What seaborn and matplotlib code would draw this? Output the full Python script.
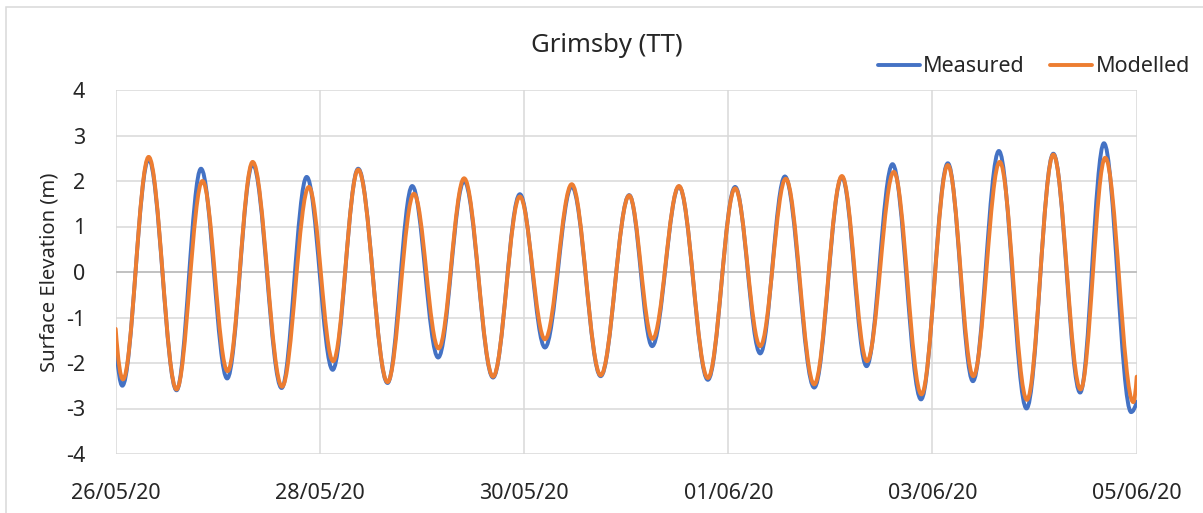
import matplotlib
matplotlib.use("Agg")
import matplotlib.pyplot as plt
import matplotlib.dates as mdates
import numpy as np
import pandas as pd
import seaborn as sns
from matplotlib.path import Path
from matplotlib.patches import PathPatch, Rectangle
from matplotlib.lines import Line2D

# Water levels at Grimsby, 26/05/20 – 05/06/20.
# Times are hours after 26/05/20 00:00; each row is the level at the left
# edge, at every high/low water, and at the right edge.
START = pd.Timestamp("2020-05-26")
END = pd.Timestamp("2020-06-05")

measured_hours = [0.0, 1.55, 7.75, 14.3, 20.05, 26.2, 32.2, 39.0, 44.9, 51.0,
                  57.0, 63.9, 69.7, 75.8, 81.9, 88.7, 95.0, 100.9, 107.2,
                  114.0, 120.7, 126.1, 132.4, 139.2, 145.6, 151.5, 157.3,
                  164.2, 170.7, 176.5, 182.6, 189.3, 195.6, 201.5, 207.6,
                  214.1, 220.4, 226.7, 232.3, 238.7, 240.0]
measured_level = [-1.50, -2.50, 2.48, -2.60, 2.27, -2.34, 2.37, -2.55, 2.09,
                  -2.15, 2.27, -2.44, 1.89, -1.88, 2.00, -2.32, 1.71, -1.66,
                  1.88, -2.29, 1.69, -1.63, 1.88, -2.37, 1.87, -1.79, 2.10,
                  -2.54, 2.09, -2.07, 2.37, -2.80, 2.39, -2.40, 2.66, -3.00,
                  2.60, -2.65, 2.83, -3.08, -2.85]

modelled_hours = [0.0, 1.7, 7.75, 14.3, 20.4, 26.3, 32.2, 39.1, 45.4, 51.1,
                  57.0, 63.9, 70.1, 75.9, 81.9, 88.7, 95.0, 100.9, 107.2,
                  114.0, 120.7, 126.2, 132.4, 139.2, 145.6, 151.5, 157.5,
                  164.2, 170.7, 176.6, 182.9, 189.4, 195.6, 201.6, 207.8,
                  214.2, 220.4, 226.8, 232.6, 239.2, 240.0]
modelled_level = [-1.25, -2.36, 2.53, -2.58, 2.00, -2.18, 2.42, -2.52, 1.87,
                  -1.96, 2.25, -2.42, 1.72, -1.68, 2.06, -2.30, 1.66, -1.48,
                  1.93, -2.27, 1.68, -1.47, 1.89, -2.33, 1.84, -1.63, 2.05,
                  -2.47, 2.11, -1.96, 2.20, -2.69, 2.35, -2.29, 2.42, -2.81,
                  2.58, -2.58, 2.51, -2.86, -2.30]

series_names = ["Measured", "Modelled"]
series_colors = ["#4472C4", "#ED7D31"]

y_ticks = [-4, -3, -2, -1, 0, 1, 2, 3, 4]
x_tick_dates = pd.date_range(START, END, freq="2D")

df = pd.concat([
    pd.DataFrame({"time": START + pd.to_timedelta(measured_hours, unit="h"),
                  "level": measured_level, "series": "Measured"}),
    pd.DataFrame({"time": START + pd.to_timedelta(modelled_hours, unit="h"),
                  "level": modelled_level, "series": "Modelled"}),
])

sns.set_theme(style="white")
plt.rcParams["font.family"] = ["Noto Sans", "DejaVu Sans"]
plt.rcParams["text.color"] = "#262626"

TEXT = "#262626"
W, H = 1203, 513
fig = plt.figure(figsize=(W / 100, H / 100), dpi=100)
ax = fig.add_axes([115.7 / W, 1 - 454 / H, (1136.7 - 115.7) / W, (454 - 90) / H])

# Chart-area frame
fig.patches.append(Rectangle((6 / W, -0.1), 1.2, 1 - 7 / H + 0.1,
                             transform=fig.transFigure, fill=False,
                             edgecolor="#D9D9D9", lw=1.1, zorder=0))


def smooth_path(xs, ys, k=0.36):
    """Bezier path through high/low waters with level tangents at each turn."""
    verts = [(xs[0], ys[0])]
    codes = [Path.MOVETO]
    n = len(xs)
    for i in range(1, n):
        dx = xs[i] - xs[i - 1]
        if i == 1:
            verts += [(xs[i] - 0.5 * dx, ys[i]), (xs[i], ys[i])]
            codes += [Path.CURVE3, Path.CURVE3]
        elif i == n - 1:
            verts += [(xs[i - 1] + 0.5 * dx, ys[i - 1]), (xs[i], ys[i])]
            codes += [Path.CURVE3, Path.CURVE3]
        else:
            verts += [(xs[i - 1] + k * dx, ys[i - 1]),
                      (xs[i] - k * dx, ys[i]), (xs[i], ys[i])]
            codes += [Path.CURVE4] * 3
    return Path(verts, codes)


handles = []
for z, (name, color) in enumerate(zip(series_names, series_colors)):
    sub = df[df["series"] == name]
    xs = mdates.date2num(sub["time"].dt.to_pydatetime())
    ys = sub["level"].to_numpy()
    patch = PathPatch(smooth_path(xs, ys), fill=False, edgecolor=color,
                      lw=2.8, capstyle="round", joinstyle="round", zorder=3 + z)
    ax.add_patch(patch)
    handles.append(Line2D([], [], color=color, lw=2.8, label=name))

ax.set_xlim(mdates.date2num(START), mdates.date2num(END))
ax.set_ylim(-4, 4)
ax.set_yticks(y_ticks)
ax.set_yticklabels([str(v) for v in y_ticks])
ax.set_xticks(mdates.date2num(x_tick_dates.to_pydatetime()))
ax.xaxis.set_major_formatter(mdates.DateFormatter("%d/%m/%y"))

ax.grid(True, color="#D9D9D9", lw=1.1)
ax.axhline(0, color="#BFBFBF", lw=1.3, zorder=1)
for s in ax.spines.values():
    s.set_visible(False)
ax.tick_params(axis="both", length=0, labelsize=15.5, colors=TEXT)
ax.tick_params(axis="x", pad=21)
ax.tick_params(axis="y", pad=22)
ax.set_xlabel("")
ax.set_ylabel("")

fig.text(50 / W, 1 - 272 / H, "Surface Elevation (m)", rotation=90,
         ha="center", va="center", fontsize=14.5, color=TEXT)
fig.text(607 / W, 1 - 46 / H, "Grimsby (TT)", ha="center", va="center",
         fontsize=18.5, color=TEXT)

fig.legend(handles=handles, loc="center right",
           bbox_to_anchor=(1190 / W, 1 - 67 / H), ncol=2, frameon=False,
           fontsize=15.5, handlelength=1.95, handletextpad=0.15,
           columnspacing=1.2, borderaxespad=0, borderpad=0)

fig.savefig("out.png", dpi=100)
